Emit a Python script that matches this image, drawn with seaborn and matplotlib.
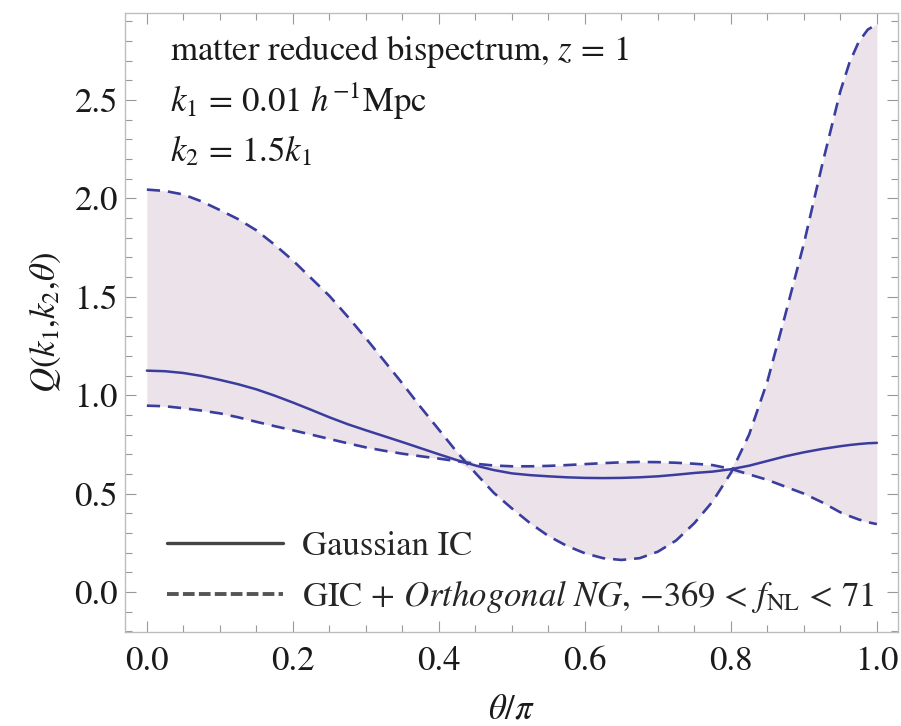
import numpy as np
import pandas as pd
import matplotlib
matplotlib.use("Agg")
import matplotlib.pyplot as plt
from matplotlib.lines import Line2D
from matplotlib.ticker import MultipleLocator
import seaborn as sns

# theta / pi sampling
theta = [0.000, 0.025, 0.050, 0.075, 0.100, 0.125, 0.150, 0.175, 0.200, 0.225,
         0.250, 0.275, 0.300, 0.325, 0.350, 0.375, 0.400, 0.425, 0.450, 0.475,
         0.500, 0.525, 0.550, 0.575, 0.600, 0.625, 0.650, 0.675, 0.700, 0.725,
         0.750, 0.775, 0.800, 0.825, 0.850, 0.875, 0.900, 0.925, 0.950, 0.9625,
         0.975, 0.9875, 1.000]

# reduced bispectrum, Gaussian initial conditions
q_gaussian = [1.125, 1.122, 1.113, 1.098, 1.078, 1.056, 1.030, 0.998, 0.963, 0.926,
              0.888, 0.853, 0.822, 0.792, 0.762, 0.731, 0.700, 0.670, 0.643, 0.620,
              0.603, 0.594, 0.588, 0.583, 0.580, 0.579, 0.580, 0.583, 0.588, 0.596,
              0.605, 0.612, 0.624, 0.642, 0.666, 0.690, 0.710, 0.727, 0.741, 0.747,
              0.752, 0.756, 0.758]

# GIC + orthogonal NG, fNL = -369
q_fnl_low = [2.045, 2.038, 2.020, 1.985, 1.941, 1.895, 1.838, 1.765, 1.685, 1.595,
             1.505, 1.400, 1.290, 1.175, 1.060, 0.940, 0.825, 0.710, 0.605, 0.505,
             0.425, 0.350, 0.285, 0.235, 0.197, 0.172, 0.163, 0.172, 0.205, 0.262,
             0.350, 0.460, 0.605, 0.800, 1.070, 1.415, 1.770, 2.170, 2.545, 2.690,
             2.795, 2.858, 2.885]

# GIC + orthogonal NG, fNL = 71
q_fnl_high = [0.947, 0.944, 0.934, 0.922, 0.908, 0.888, 0.865, 0.843, 0.822, 0.800,
              0.778, 0.756, 0.735, 0.718, 0.703, 0.690, 0.678, 0.665, 0.652, 0.643,
              0.639, 0.639, 0.641, 0.645, 0.650, 0.655, 0.659, 0.661, 0.660, 0.657,
              0.652, 0.645, 0.626, 0.598, 0.570, 0.535, 0.500, 0.456, 0.405, 0.386,
              0.369, 0.355, 0.345]

x_ticks = [0.0, 0.2, 0.4, 0.6, 0.8, 1.0]
y_ticks = [0.0, 0.5, 1.0, 1.5, 2.0, 2.5]

df = pd.DataFrame({"theta": theta, "gauss": q_gaussian,
                   "low": q_fnl_low, "high": q_fnl_high})

sns.set_theme(style="ticks")
plt.rcParams["font.family"] = ["STIXGeneral", "DejaVu Sans"]
plt.rcParams["mathtext.fontset"] = "stix"

line_col = "#3a3d9e"
fill_col = "#ebe2ea"
frame_col = "#bdbdbd"
text_col = "#1a1a1a"
fs = 25

fig = plt.figure(figsize=(9.01, 7.26), dpi=100)
ax = fig.add_axes([0.1387, 0.1295, 0.9967 - 0.1387, 0.982 - 0.1295])

ax.fill_between(df["theta"], np.minimum(df["low"], df["high"]),
                np.maximum(df["low"], df["high"]), color=fill_col, lw=0, zorder=1)

sns.lineplot(data=df, x="theta", y="gauss", ax=ax, color=line_col, lw=1.8,
             zorder=3, legend=False)
sns.lineplot(data=df, x="theta", y="low", ax=ax, color=line_col, lw=1.9,
             zorder=3, legend=False, linestyle=(0, (5.0, 3.0)))
sns.lineplot(data=df, x="theta", y="high", ax=ax, color=line_col, lw=1.9,
             zorder=3, legend=False, linestyle=(0, (5.0, 3.0)))

ax.set_xlim(-0.030, 1.029)
ax.set_ylim(-0.203, 2.942)
ax.set_xticks(x_ticks)
ax.set_yticks(y_ticks)
ax.set_xticklabels([f"{v:.1f}" for v in x_ticks])
ax.set_yticklabels([f"{v:.1f}" for v in y_ticks])
ax.xaxis.set_minor_locator(MultipleLocator(0.05))
ax.yaxis.set_minor_locator(MultipleLocator(0.1))

for side in ax.spines.values():
    side.set_color(frame_col)
    side.set_linewidth(1.0)
ax.tick_params(which="both", direction="in", top=True, right=True,
               color="#999999", width=0.8, labelsize=fs, labelcolor=text_col)
ax.tick_params(which="major", length=8, pad=5)
ax.tick_params(which="minor", length=5)
ax.tick_params(axis="x", which="major", pad=10)

ax.set_xlabel(r"$\theta/\pi$", fontsize=fs, labelpad=12, color=text_col)
ax.set_ylabel(r"$Q(k_1{,}k_2{,}\theta)$", fontsize=fs, labelpad=8, color=text_col)

ax.text(0.058, 0.924, r"matter reduced bispectrum, $z\,=\,1$", transform=ax.transAxes,
        fontsize=fs, va="baseline", color=text_col)
ax.text(0.058, 0.840, r"$k_1\,=\,0.01\ h^{-1}$Mpc", transform=ax.transAxes,
        fontsize=fs, va="baseline", color=text_col)
ax.text(0.058, 0.760, r"$k_2\,=\,1.5k_1$", transform=ax.transAxes,
        fontsize=fs, va="baseline", color=text_col)

handles = [
    Line2D([], [], color="#444444", lw=2.4),
    Line2D([], [], color="#555555", lw=2.8, linestyle=(0, (3.0, 1.1))),
]
labels = ["Gaussian IC",
          r"GIC + $\it{Orthogonal\ NG}$, $-369$ < $f_{\rm NL}$ < 71"]
ax.legend(handles, labels, loc="lower left", bbox_to_anchor=(0.0543, 0.028),
          frameon=False, fontsize=fs, handlelength=3.34, handletextpad=0.55,
          labelspacing=0.41, borderpad=0.0, borderaxespad=0.0)

fig.savefig("out.png", dpi=100)
